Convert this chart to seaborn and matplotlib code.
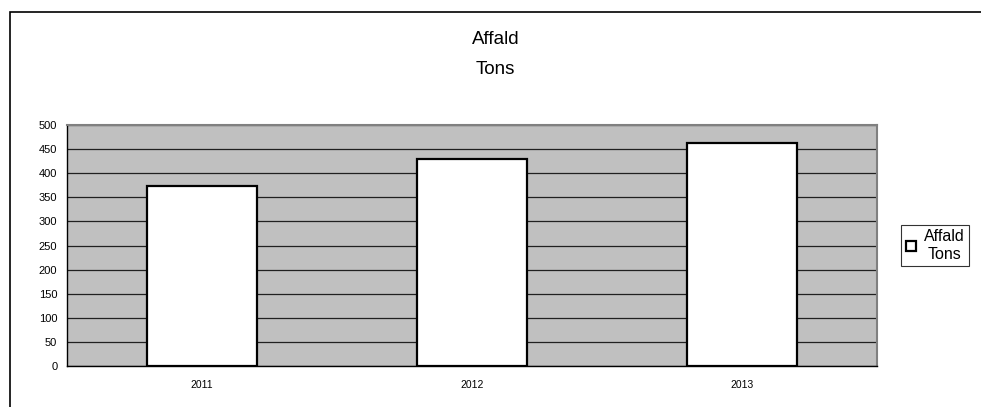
import matplotlib

matplotlib.use("Agg")
import matplotlib.pyplot as plt  # noqa: E402
import pandas as pd  # noqa: E402
import seaborn as sns  # noqa: E402
from matplotlib.patches import Rectangle  # noqa: E402

# ── Data ──────────────────────────────────────────────────────────────────────
years = ["2011", "2012", "2013"]
tons = [373, 429, 463]
series_label = "Affald\nTons"
y_ticks = list(range(0, 501, 50))

df = pd.DataFrame({"year": years, "tons": tons})

# ── Plot ──────────────────────────────────────────────────────────────────────
sns.set_style("white")
plt.rcParams["font.family"] = ["Liberation Sans", "DejaVu Sans"]
plt.rcParams["text.color"] = "black"
plt.rcParams["xtick.color"] = "black"
plt.rcParams["ytick.color"] = "black"

fig = plt.figure(figsize=(9.81, 4.07), dpi=100)
ax = fig.add_axes([0.0683, 0.1007, 0.8257, 0.5922])

# outer chart frame
fig.patches.append(
    Rectangle((0.0105, -0.02), 1.0, 0.99, transform=fig.transFigure,
              fill=False, edgecolor="black", linewidth=1.2)
)

ax.set_facecolor("#c0c0c0")
ax.set_axisbelow(True)
ax.yaxis.grid(True, color="#202020", linewidth=0.9)

sns.barplot(
    data=df, x="year", y="tons", color="white", edgecolor="black",
    linewidth=1.6, width=0.407, saturation=1, label=series_label, ax=ax,
)

ax.set_ylim(0, 500)
ax.set_yticks(y_ticks)
ax.set_xlim(-0.5, 2.5)
ax.set_xticks([-0.5, 0.5, 1.5, 2.5], minor=False)
ax.set_xticklabels([])
ax.set_xticks([0, 1, 2], minor=True)
ax.set_xticklabels(years, minor=True)
ax.tick_params(axis="x", which="minor", length=0, labelsize=7.5, pad=10)
ax.tick_params(axis="x", which="major", length=4, direction="out")
ax.tick_params(axis="y", length=4, direction="out", labelsize=8, pad=3)
ax.set_xlabel("")
ax.set_ylabel("")

for side in ["left", "bottom"]:
    ax.spines[side].set_color("black")
    ax.spines[side].set_linewidth(1.0)
for side in ["top", "right"]:
    ax.spines[side].set_color("#808080")
    ax.spines[side].set_linewidth(1.5)

fig.text(0.505, 0.902, "Affald", ha="center", va="center", fontsize=13.5)
fig.text(0.505, 0.830, "Tons", ha="center", va="center", fontsize=13.5)

leg = ax.legend(
    loc="center left", bbox_to_anchor=(1.03, 0.5), frameon=True,
    fancybox=False, edgecolor="black", fontsize=11.5, handlelength=0.6,
    handleheight=0.6, handletextpad=0.5, borderpad=0.3, borderaxespad=0,
)
leg.get_frame().set_linewidth(0.8)
for txt in leg.get_texts():
    txt.set_multialignment("center")

fig.savefig("out.png", dpi=100)
